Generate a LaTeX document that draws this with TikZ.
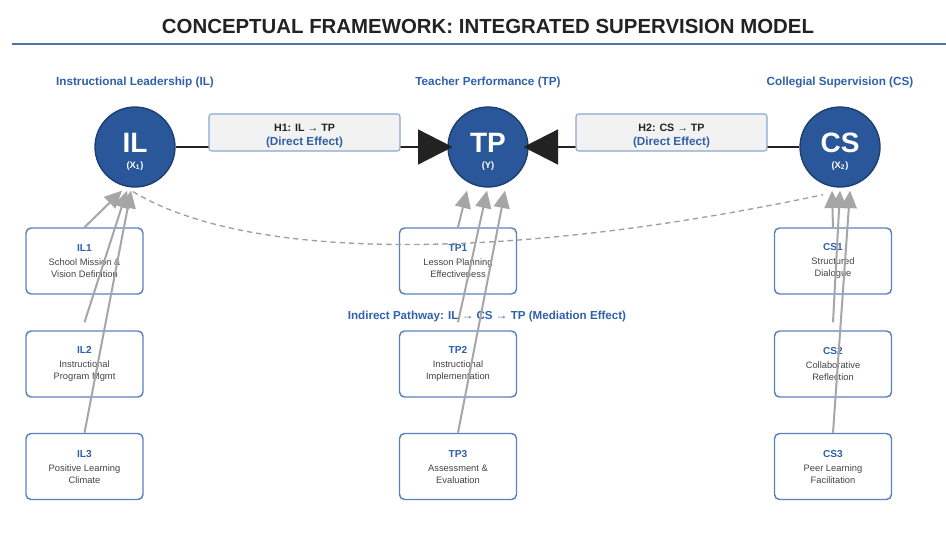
\documentclass[tikz,border=0pt]{standalone}
\usepackage{fontspec}
\setmainfont{Liberation Sans}
\usetikzlibrary{arrows.meta,calc}

\definecolor{factorfill}{HTML}{2A579A}
\definecolor{factoredge}{HTML}{1E3D6E}
\definecolor{hdrblue}{HTML}{2F60AA}
\definecolor{itemedge}{HTML}{5A82C0}
\definecolor{hypoedge}{HTML}{8AA7D0}
\definecolor{hypofill}{HTML}{F2F2F2}
\definecolor{titlegray}{HTML}{222222}
\definecolor{descgray}{HTML}{444444}
\definecolor{rulecol}{HTML}{4F74AA}
\definecolor{linkgray}{HTML}{A6A6A6}

\tikzset{
  factor/.style={circle, draw=factoredge, line width=1pt, fill=factorfill,
    minimum size=60pt, inner sep=0pt, text=white, align=center, font=\bfseries},
  hypobox/.style={draw=hypoedge, fill=hypofill, rounded corners=2pt, line width=0.8pt,
    minimum width=143.25pt, minimum height=27.75pt, inner sep=1pt, align=center},
  itembox/.style={draw=itemedge, fill=white, rounded corners=3.75pt, line width=1.1pt,
    minimum width=87.75pt, minimum height=49.5pt, inner sep=1pt, align=center,
    text=descgray, font=\fontsize{7}{9}\selectfont},
  header/.style={text=hdrblue, font=\fontsize{8.8}{10}\selectfont\bfseries},
  direct/.style={draw=titlegray, line width=2pt,
    -{Triangle[length=26pt,width=26pt]}, shorten >=-4pt},
  indicator/.style={draw=linkgray, line width=1.5pt,
    -{Triangle[length=13pt,width=12pt]}},
  mediation/.style={draw=gray!75, line width=1pt, dash pattern=on 4pt off 3pt},
}

\newcommand{\itemid}[1]{\textcolor{hdrblue}{\fontsize{7.6}{9}\selectfont\bfseries #1}\\[1.5pt]}
\newcommand{\factorlabel}[2]{{\fontsize{21}{22}\selectfont\rule{0pt}{21pt}#1}\\[0pt]{\fontsize{7}{8}\selectfont #2}}
\newcommand{\hypolabel}[1]{\textcolor{titlegray}{\fontsize{8}{9}\selectfont\bfseries\rule{0pt}{11pt}#1}\\[-1pt]
  \textcolor{hdrblue}{\fontsize{8.8}{10}\selectfont\bfseries (Direct Effect)}}

\begin{document}
\begin{tikzpicture}[x=0.75pt, y=-0.75pt]
    \useasboundingbox (0,0) rectangle (946,533);

    % タイトル
    \node[text=titlegray, font=\fontsize{15.3}{17}\selectfont\bfseries] (title) at (488,26)
      {CONCEPTUAL FRAMEWORK: INTEGRATED SUPERVISION MODEL};
    \draw[rulecol, line width=1.5pt] (12,44) -- (946,44);

    % 見出し
    \node[header] (ILhead) at (135,82) {Instructional Leadership (IL)};
    \node[header] (TPhead) at (488,82) {Teacher Performance (TP)};
    \node[header] (CShead) at (840,82) {Collegial Supervision (CS)};

    % 潜在変数
    \node[factor] (IL) at (135,147) {\factorlabel{IL}{(X\textsubscript{1})}};
    \node[factor] (TP) at (488,147) {\factorlabel{TP}{(Y)}};
    \node[factor] (CS) at (840,147) {\factorlabel{CS}{(X\textsubscript{2})}};

    % 直接効果
    \draw[direct] (IL) -- (TP);
    \draw[direct] (CS) -- (TP);

    % 仮説ボックス
    \node[hypobox] (H1) at (304.5,132.5) {\hypolabel{H1: IL → TP}};
    \node[hypobox] (H2) at (671.5,132.5) {\hypolabel{H2: CS → TP}};

    % 観測変数 (IL)
    \node[itembox] (IL1) at (84.5,261)   {\itemid{IL1}School Mission \&\\Vision Definition};
    \node[itembox] (IL2) at (84.5,364)   {\itemid{IL2}Instructional\\Program Mgmt};
    \node[itembox] (IL3) at (84.5,466.5) {\itemid{IL3}Positive Learning\\Climate};

    % 観測変数 (TP)
    \node[itembox] (TP1) at (458,261)   {\itemid{TP1}Lesson Planning\\Effectiveness};
    \node[itembox] (TP2) at (458,364)   {\itemid{TP2}Instructional\\Implementation};
    \node[itembox] (TP3) at (458,466.5) {\itemid{TP3}Assessment \&\\Evaluation};

    % 観測変数 (CS)
    \node[itembox] (CS1) at (833,261)   {\itemid{CS1}Structured\\Dialogue};
    \node[itembox] (CS2) at (833,364)   {\itemid{CS2}Collaborative\\Reflection};
    \node[itembox] (CS3) at (833,466.5) {\itemid{CS3}Peer Learning\\Facilitation};

    % 媒介効果
    \node[header, font=\fontsize{8.7}{10}\selectfont\bfseries] (indirect) at (487,316)
      {Indirect Pathway: IL → CS → TP (Mediation Effect)};
    \coordinate (medA) at ($(IL.south)+(-2,4)$);
    \coordinate (medB) at ($(CS.south)+(-17,7)$);
    \draw[mediation] (medA) .. controls (260,268) and (540,255) .. (medB);

    % 観測変数から潜在変数への矢印
    \foreach \f/\da/\db/\dc in {IL/-13/-8/-4, TP/-21/-1/17, CS/-8/0/10} {
      \draw[indicator] (\f1.north) -- ($(\f.south)+(\da,3)$);
      \draw[indicator] ($(\f2.north)+(0,-8)$) -- ($(\f.south)+(\db,3)$);
      \draw[indicator] (\f3.north) -- ($(\f.south)+(\dc,3)$);
    }
\end{tikzpicture}
\end{document}
